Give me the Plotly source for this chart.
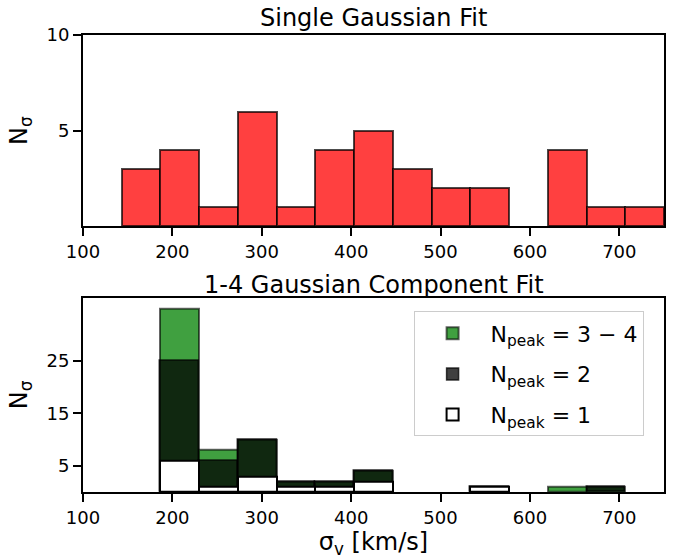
import plotly.graph_objects as go

# histogram bin edges (km/s)
bin_edges = [143.33, 186.67, 230.0, 273.33, 316.67, 360.0, 403.33, 446.67,
             490.0, 533.33, 576.67, 620.0, 663.33, 706.67, 750.0]

# Top panel: single Gaussian fit counts
single_counts = [3, 4, 1, 6, 1, 4, 5, 3, 2, 2, 0, 4, 1, 1]

# Bottom panel: component counts per N_peak class
n_peak_1 = [0, 6, 1, 3, 1, 1, 2, 0, 0, 1, 0, 0, 0, 0]
n_peak_2 = [0, 19, 5, 7, 1, 1, 2, 0, 0, 0, 0, 0, 1, 0]
n_peak_34 = [0, 10, 2, 0, 0, 0, 0, 0, 0, 0, 0, 1, 0, 0]

x_ticks = [100, 200, 300, 400, 500, 600, 700]
top_yticks = [5, 10]
bot_yticks = [5, 15, 25]

centers = [(a + b) / 2 for a, b in zip(bin_edges[:-1], bin_edges[1:])]
widths = [b - a for a, b in zip(bin_edges[:-1], bin_edges[1:])]


def nz(v):
    return [c if c > 0 else None for c in v]


cum2 = [a + b for a, b in zip(n_peak_1, n_peak_2)]
cum_all = [a + b for a, b in zip(cum2, n_peak_34)]

FONT = "DejaVu Sans"
fig = go.Figure()

fig.add_trace(go.Bar(x=centers, y=nz(single_counts), width=widths,
                     marker=dict(color="#ff4040", line=dict(color="rgba(0,0,0,0.7)", width=2)),
                     xaxis="x", yaxis="y", showlegend=False))

fig.add_trace(go.Bar(x=centers, y=nz(cum_all), width=widths,
                     marker=dict(color="#40a040", line=dict(color="rgba(0,0,0,0.6)", width=2)),
                     xaxis="x2", yaxis="y2", legendgroup="g1",
                     name="N<sub>peak</sub> = 3 − 4"))
fig.add_trace(go.Bar(x=centers, y=nz(cum2), width=widths,
                     marker=dict(color="rgba(0,0,0,0.75)", line=dict(color="rgba(0,0,0,0.75)", width=1.5)),
                     xaxis="x2", yaxis="y2", legendgroup="g2",
                     name="N<sub>peak</sub> = 2"))
fig.add_trace(go.Bar(x=centers, y=nz(n_peak_1), width=widths,
                     marker=dict(color="white", line=dict(color="black", width=2)),
                     xaxis="x2", yaxis="y2", legendgroup="g3",
                     name="N<sub>peak</sub> = 1"))

axis_common = dict(showline=True, linecolor="black", linewidth=2, mirror=True,
                   ticks="outside", ticklen=8, tickwidth=2, tickcolor="black",
                   showgrid=False, zeroline=False,
                   tickfont=dict(family=FONT, size=18, color="black"))

fig.update_layout(
    width=678, height=559,
    margin=dict(l=83, r=13, t=35, b=63),
    plot_bgcolor="white", paper_bgcolor="white",
    barmode="overlay", bargap=0,
    font=dict(family=FONT, color="black"),
    xaxis=dict(domain=[0, 1], range=[100, 750], tickvals=x_ticks, anchor="y", **axis_common),
    yaxis=dict(domain=[0.5813, 1.0], range=[0, 10], tickvals=top_yticks, anchor="x",
               title=dict(text="N<sub>σ</sub>", font=dict(family=FONT, size=24), standoff=12),
               **axis_common),
    xaxis2=dict(domain=[0, 1], range=[100, 750], tickvals=x_ticks, anchor="y2",
                title=dict(text="σ<sub>v</sub> [km/s]", font=dict(family=FONT, size=24), standoff=3),
                **axis_common),
    yaxis2=dict(domain=[0, 0.4252], range=[0, 37], tickvals=bot_yticks, anchor="x2",
                title=dict(text="N<sub>σ</sub>", font=dict(family=FONT, size=24), standoff=12),
                **axis_common),
    legend=dict(x=0.569, y=0.395, xanchor="left", yanchor="top",
                bgcolor="rgba(255,255,255,0.8)", bordercolor="#cccccc", borderwidth=1,
                font=dict(family=FONT, size=22, color="black"), itemwidth=66,
                tracegroupgap=9),
    annotations=[
        dict(text="Single Gaussian Fit", x=0.5, y=1.037, xref="paper", yref="paper",
             showarrow=False, font=dict(family=FONT, size=24), xanchor="center", yanchor="middle"),
        dict(text="1-4 Gaussian Component Fit", x=0.5, y=0.453, xref="paper", yref="paper",
             showarrow=False, font=dict(family=FONT, size=24), xanchor="center", yanchor="middle"),
    ],
)

fig.write_html("out.html")
